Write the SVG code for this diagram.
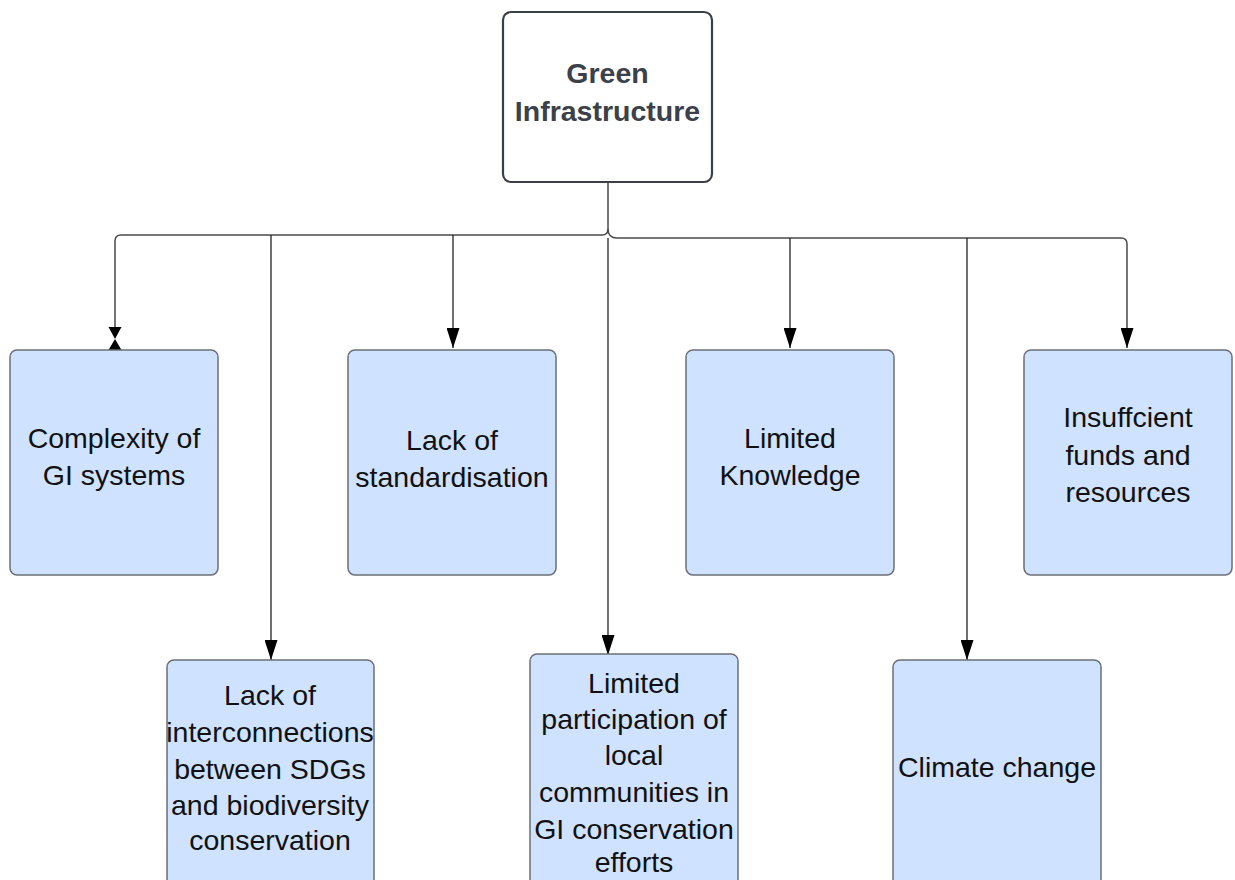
<svg xmlns="http://www.w3.org/2000/svg" width="1235" height="880" viewBox="0 0 1235 880">
<style>
.box{fill:#cfe2ff;stroke:#6b6f76;stroke-width:1.5}
.root{fill:#ffffff;stroke:#3b3f47;stroke-width:2.2}
.t{font-family:"Liberation Sans",Arial,sans-serif;font-size:28.5px;fill:#111;text-anchor:middle}
.rt{font-family:"Liberation Sans",Arial,sans-serif;font-size:28.5px;font-weight:bold;fill:#3b4049;text-anchor:middle}
.c{fill:none;stroke:#4a4a4a;stroke-width:1.5}
.cb{fill:none;stroke:#222;stroke-width:1.3}
</style>
<defs>
<marker id="ah" viewBox="0 0 20 13" markerWidth="20" markerHeight="13" refX="20" refY="6.5" orient="auto" markerUnits="userSpaceOnUse">
<path d="M0,0 L20,6.5 L0,13 Z" fill="#000"/>
</marker>
</defs>
<g id="connectors">
<path class="c" d="M608,182 V229 Q608,235 602,235 H121 Q115,235 115,241 V327"/>
<polygon points="108.5,327 121.5,327 115,339 121.5,350 108.5,350 115,339" fill="#000"/>
<path class="c" d="M608,229 Q608,238 617,238 H1121 Q1127,238 1127,244 V348" marker-end="url(#ah)"/>
<path class="cb" d="M271,235 V660" marker-end="url(#ah)"/>
<path class="cb" d="M453,235 V348" marker-end="url(#ah)"/>
<path class="cb" d="M608,238 V655" marker-end="url(#ah)"/>
<path class="cb" d="M790,238 V348" marker-end="url(#ah)"/>
<path class="cb" d="M967,238 V660" marker-end="url(#ah)"/>
</g>
<g id="root">
<rect class="root" x="503" y="12" width="209" height="170" rx="8"/>
<text class="rt" x="607.5" y="83">Green</text>
<text class="rt" x="607.5" y="121">Infrastructure</text>
</g>
<g id="n1">
<rect class="box" x="10" y="350" width="208" height="225" rx="7"/>
<text class="t" x="114" y="448">Complexity of</text>
<text class="t" x="114" y="485">GI systems</text>
</g>
<g id="n2">
<rect class="box" x="348" y="350" width="208" height="225" rx="7"/>
<text class="t" x="452" y="450">Lack of</text>
<text class="t" x="452" y="487">standardisation</text>
</g>
<g id="n3">
<rect class="box" x="686" y="350" width="208" height="225" rx="7"/>
<text class="t" x="790" y="448">Limited</text>
<text class="t" x="790" y="485">Knowledge</text>
</g>
<g id="n4">
<rect class="box" x="1024" y="350" width="208" height="225" rx="7"/>
<text class="t" x="1128" y="427">Insuffcient</text>
<text class="t" x="1128" y="465">funds and</text>
<text class="t" x="1128" y="502">resources</text>
</g>
<g id="n5">
<rect class="box" x="167" y="660" width="207" height="240" rx="7"/>
<text class="t" x="270" y="705">Lack of</text>
<text class="t" x="270" y="742">interconnections</text>
<text class="t" x="270" y="779">between SDGs</text>
<text class="t" x="270" y="815">and biodiversity</text>
<text class="t" x="270" y="850">conservation</text>
</g>
<g id="n6">
<rect class="box" x="530" y="654" width="208" height="240" rx="7"/>
<text class="t" x="634" y="693">Limited</text>
<text class="t" x="634" y="729">participation of</text>
<text class="t" x="634" y="765">local</text>
<text class="t" x="634" y="802">communities in</text>
<text class="t" x="634" y="839">GI conservation</text>
<text class="t" x="634" y="872">efforts</text>
</g>
<g id="n7">
<rect class="box" x="893" y="660" width="208" height="240" rx="7"/>
<text class="t" x="997" y="777">Climate change</text>
</g>
</svg>
